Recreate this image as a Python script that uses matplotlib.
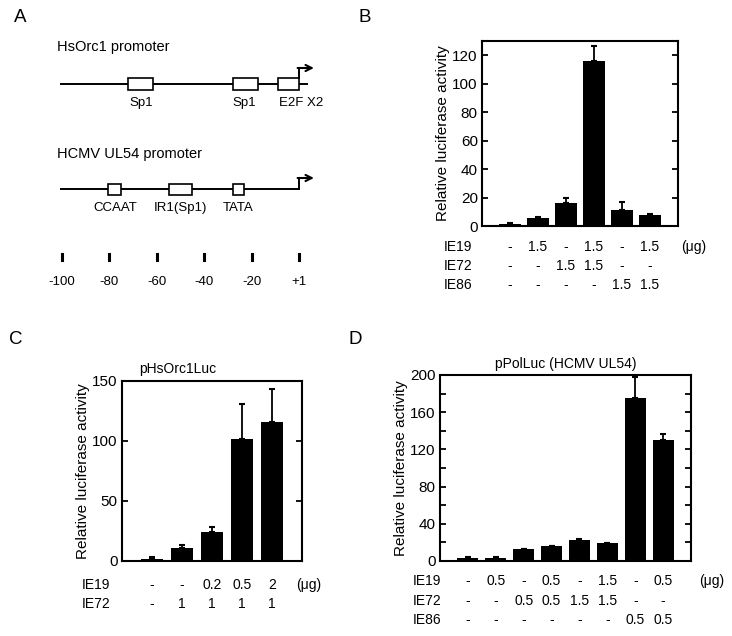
import matplotlib
matplotlib.use("Agg")
import matplotlib.pyplot as plt
import numpy as np

plt.rcParams['font.family'] = ['Liberation Sans', 'DejaVu Sans']

# ---------------- data ----------------
# Panel A: promoter diagrams (positions in bp relative to +1)
scale_positions = [-100, -80, -60, -40, -20, 0]
scale_labels = ['-100', '-80', '-60', '-40', '-20', '+1']
orc1_boxes = [(-72, -61.5), (-28, -17.5), (-9, 0)]
orc1_box_labels = ['Sp1', 'Sp1', 'E2F X2']
orc1_label_x = [-66.5, -23, 1]
ul54_boxes = [(-80.5, -75), (-55, -45), (-28, -23)]
ul54_box_labels = ['CCAAT', 'IR1(Sp1)', 'TATA']
ul54_label_x = [-77.5, -50, -25.5]

# Panel B
b_values = [1.5, 5.5, 16, 116, 11, 7.5]
b_errors = [0.3, 1.0, 4, 10.5, 6, 1.0]
b_ie19 = ['-', '1.5', '-', '1.5', '-', '1.5']
b_ie72 = ['-', '-', '1.5', '1.5', '-', '-']
b_ie86 = ['-', '-', '-', '-', '1.5', '1.5']

# Panel C
c_values = [1.5, 11, 24, 102, 116]
c_errors = [1.5, 2.5, 4, 29, 27]
c_ie19 = ['-', '-', '0.2', '0.5', '2']
c_ie72 = ['-', '1', '1', '1', '1']

# Panel D
d_values = [3, 3, 13, 16, 23, 19, 175, 130]
d_errors = [1, 1, 0, 0, 1, 0, 23, 7]
d_ie19 = ['-', '0.5', '-', '0.5', '-', '1.5', '-', '0.5']
d_ie72 = ['-', '-', '0.5', '0.5', '1.5', '1.5', '-', '-']
d_ie86 = ['-', '-', '-', '-', '-', '-', '0.5', '0.5']

W, H = 732, 636
fig = plt.figure(figsize=(W / 100, H / 100), dpi=100)


def rect(l, t, r, b):
    return [l / W, 1 - b / H, (r - l) / W, (b - t) / H]


def ftext(x, y, s, **kw):
    fig.text(x / W, 1 - y / H, s, **kw)


# ---------------- Panel A ----------------
axA = fig.add_axes([0, 0.5, 0.5, 0.5])
axA.set_xlim((0 - 299) / 2.37, (366 - 299) / 2.37)
axA.set_ylim(318, 0)
axA.axis('off')

def promoter(ax, ybase, x0, x1, boxes, labels, lx, bh, arrow_top, label_y):
    ax.plot([x0, x1], [ybase, ybase], color='black', lw=1.4, zorder=1)
    for (s, e), lab, xx in zip(boxes, labels, lx):
        ax.add_patch(plt.Rectangle((s, ybase - bh / 2), e - s, bh, facecolor='white',
                                   edgecolor='black', lw=1.2, zorder=2))
        ax.text(xx, label_y, lab, ha='center', va='center', fontsize=9.5)
    ax.plot([0, 0], [ybase - bh / 2 if boxes[-1][1] >= 0 else ybase, arrow_top],
            color='black', lw=1.4, zorder=3)
    ax.annotate('', xy=(6.3, arrow_top), xytext=(-0.6, arrow_top),
                arrowprops=dict(arrowstyle='->', lw=1.5, color='black',
                                shrinkA=0, shrinkB=0, mutation_scale=11))

axA.text((57 - 299) / 2.37, 47, 'HsOrc1 promoter', ha='left', va='center', fontsize=10.5)
promoter(axA, 84, -100.4, 3.4, orc1_boxes, orc1_box_labels, orc1_label_x, 12, 68, 103)
axA.text((57 - 299) / 2.37, 154, 'HCMV UL54 promoter', ha='left', va='center', fontsize=10.5)
promoter(axA, 189, -100.4, 0, ul54_boxes, ul54_box_labels, ul54_label_x, 11, 178, 208)
for p, lab in zip(scale_positions, scale_labels):
    axA.plot([p, p], [254, 260], color='black', lw=2.2)
    axA.text(p, 282, lab, ha='center', va='center', fontsize=9.5)

# panel letters
ftext(14, 18, 'A', fontsize=13.5, va='center', ha='left')
ftext(358, 18, 'B', fontsize=13.5, va='center', ha='left')
ftext(9, 339, 'C', fontsize=13.5, va='center', ha='left')
ftext(349, 339, 'D', fontsize=13.5, va='center', ha='left')


def bar_panel(ax, values, errors, ylim, major, minor, width):
    x = np.arange(len(values))
    ax.bar(x, values, width=width, color='black', zorder=2)
    ax.errorbar(x, values, yerr=[np.zeros(len(values)), errors], fmt='none',
                ecolor='black', elinewidth=1.3, capsize=2.5, capthick=1.5, zorder=3)
    ax.set_xlim(-1, len(values))
    ax.set_ylim(*ylim)
    ax.set_xticks([])
    ax.set_yticks(major)
    if minor is not None:
        ax.set_yticks(minor, minor=True)
    ax.tick_params(axis='y', which='both', direction='in', left=True, right=True,
                   length=4, width=1.3, labelsize=11, pad=3)
    for sp in ax.spines.values():
        sp.set_linewidth(1.5)
    ax.set_ylabel('Relative luciferase activity', fontsize=11, labelpad=2)


def row_labels(ax, rows, names, ys, name_x, unit_x):
    trans = matplotlib.transforms.blended_transform_factory(ax.transData, fig.transFigure)
    for vals, name, yy in zip(rows, names, ys):
        ftext(name_x, yy, name, fontsize=10, va='center', ha='left')
        for i, v in enumerate(vals):
            ax.text(i, 1 - yy / H, v, transform=trans, fontsize=10, va='center', ha='center')
    ftext(unit_x, ys[0], '(μg)', fontsize=10, va='center', ha='left')


# ---------------- Panel B ----------------
axB = fig.add_axes(rect(482, 41, 678, 226))
bar_panel(axB, b_values, b_errors, (0, 130), [0, 20, 40, 60, 80, 100, 120], None, 0.78)
row_labels(axB, [b_ie19, b_ie72, b_ie86], ['IE19', 'IE72', 'IE86'], [247, 266, 285], 444, 681)

# ---------------- Panel C ----------------
axC = fig.add_axes(rect(122, 381, 302, 561))
bar_panel(axC, c_values, c_errors, (0, 150), [0, 50, 100, 150], None, 0.74)
axC.text(0.31, 1.03, 'pHsOrc1Luc', transform=axC.transAxes, ha='center', va='bottom', fontsize=10)
row_labels(axC, [c_ie19, c_ie72], ['IE19', 'IE72'], [585, 604], 82, 296)

# ---------------- Panel D ----------------
axD = fig.add_axes(rect(440, 375, 691, 561))
bar_panel(axD, d_values, d_errors, (0, 200), [0, 40, 80, 120, 160, 200],
          [20, 60, 100, 140, 180], 0.75)
axD.set_title('pPolLuc (HCMV UL54)', fontsize=10, pad=5)
row_labels(axD, [d_ie19, d_ie72, d_ie86], ['IE19', 'IE72', 'IE86'], [581, 601, 620], 413, 699)

fig.savefig('out.png', dpi=100)
